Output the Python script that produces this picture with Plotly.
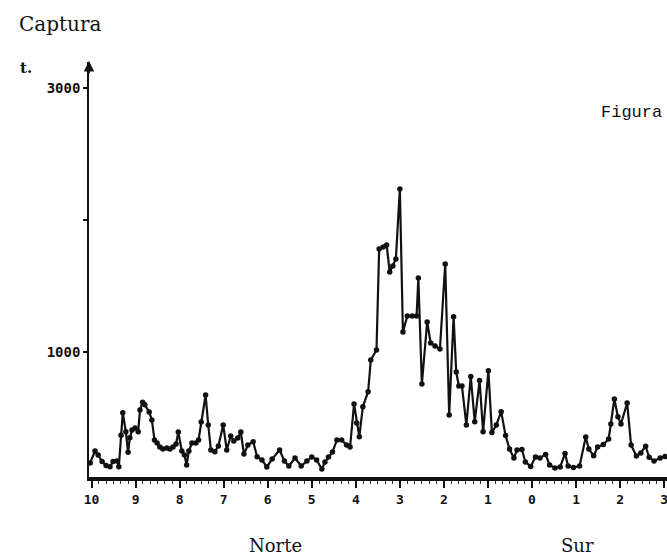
import plotly.graph_objects as go

# Latitude (negative = degrees North, positive = degrees South) and catch (t.)
lat = [-10.03, -9.92, -9.85, -9.76, -9.67, -9.58, -9.51, -9.42, -9.38, -9.33,
       -9.29, -9.22, -9.17, -9.13, -9.08, -9.01, -8.94, -8.90, -8.84, -8.79,
       -8.69, -8.63, -8.57, -8.51, -8.45, -8.38, -8.29, -8.22, -8.15, -8.08,
       -8.03, -7.95, -7.89, -7.84, -7.79, -7.72, -7.63, -7.57, -7.51, -7.41,
       -7.35, -7.29, -7.20, -7.12, -7.01, -6.93, -6.84, -6.77, -6.68, -6.61,
       -6.54, -6.45, -6.33, -6.24, -6.13, -6.02, -5.90, -5.73, -5.62, -5.52,
       -5.38, -5.24, -5.11, -5.00, -4.89, -4.77, -4.70, -4.62, -4.53, -4.43,
       -4.32, -4.21, -4.13, -4.04, -3.98, -3.92, -3.84, -3.72, -3.66, -3.53,
       -3.47, -3.38, -3.30, -3.23, -3.16, -3.09, -3.00, -2.93, -2.83, -2.72,
       -2.62, -2.58, -2.50, -2.38, -2.30, -2.20, -2.09, -1.97, -1.88, -1.78,
       -1.72, -1.66, -1.59, -1.49, -1.39, -1.30, -1.19, -1.11, -0.99, -0.91,
       -0.81, -0.70, -0.60, -0.51, -0.41, -0.34, -0.23, -0.15, -0.03, 0.08,
       0.18, 0.31, 0.40, 0.52, 0.64, 0.75, 0.82, 0.94, 1.08, 1.22,
       1.29, 1.40, 1.49, 1.62, 1.74, 1.79, 1.87, 1.95, 2.02, 2.16,
       2.25, 2.37, 2.47, 2.58, 2.66, 2.77, 2.91, 3.02]
captura = [160, 250, 220, 170, 140, 130, 170, 175, 130, 370,
           540, 395, 240, 350, 410, 425, 395, 560, 620, 600,
           545, 485, 333, 311, 280, 265, 273, 265, 280, 303,
           394, 250, 220, 144, 250, 311, 311, 333, 470, 674,
           447, 258, 245, 288, 447, 258, 364, 326, 348, 394,
           227, 295, 320, 207, 182, 129, 189, 258, 174, 136,
           197, 136, 174, 205, 182, 114, 167, 205, 242, 333,
           333, 295, 280, 606, 462, 358, 586, 699, 939, 1015,
           1780, 1796, 1811, 1606, 1652, 1705, 2235, 1152, 1273, 1273,
           1273, 1561, 758, 1227, 1068, 1045, 1023, 1667, 523, 1267,
           848, 742, 742, 447, 814, 472, 784, 396, 858, 390,
           447, 548, 367, 265, 197, 258, 261, 167, 133, 205,
           197, 223, 144, 121, 129, 231, 136, 125, 136, 356,
           265, 214, 280, 299, 341, 455, 644, 510, 455, 614,
           295, 212, 235, 286, 202, 174, 197, 208]

x_tickvals = list(range(-10, 4))
x_ticktext = ["10", "9", "8", "7", "6", "5", "4", "3", "2", "1", "0", "1", "2", "3"]
y_tickvals = [1000, 2000, 3000]
y_ticktext = ["1000", "", "3000"]

fig = go.Figure()
fig.add_trace(go.Scatter(
    x=lat, y=captura, mode="lines+markers",
    line=dict(color="#111111", width=2.2),
    marker=dict(color="#111111", size=5.5, symbol="circle"),
    hoverinfo="skip", showlegend=False, cliponaxis=False,
))

fig.update_layout(
    width=667, height=560,
    margin=dict(l=89, r=0, t=62, b=83),
    paper_bgcolor="white", plot_bgcolor="white",
    xaxis=dict(
        range=[-10.057, 3.065], showgrid=False, zeroline=False,
        showline=True, linecolor="#111111", linewidth=4,
        tickvals=x_tickvals, ticktext=x_ticktext, ticklabeloverflow="allow",
        ticks="outside", ticklen=7, tickwidth=1.5, tickcolor="#111111",
        tickfont=dict(family="DejaVu Sans Mono", size=13, color="#111111", weight="bold"),
        minor=dict(dtick=1/6, ticks="outside", ticklen=3, tickwidth=1, tickcolor="#333333"),
    ),
    yaxis=dict(
        range=[53, 3197], showgrid=False, zeroline=False,
        showline=True, linecolor="#111111", linewidth=1.6,
        tickvals=y_tickvals, ticktext=y_ticktext,
        ticks="outside", ticklen=4, tickwidth=1.5, tickcolor="#111111",
        tickfont=dict(family="DejaVu Sans Mono", size=14, color="#111111", weight="bold"),
    ),
    annotations=[
        dict(text="Captura", xref="paper", yref="paper", x=-0.1246, y=1.092,
             xanchor="left", yanchor="middle", showarrow=False,
             font=dict(family="DejaVu Serif", size=20, color="#111111")),
        dict(text="<b>t.</b>", xref="paper", yref="paper", x=-0.123, y=0.9855,
             xanchor="left", yanchor="middle", showarrow=False,
             font=dict(family="DejaVu Serif", size=15, color="#111111")),
        dict(text="Figura", xref="paper", yref="paper", x=0.882, y=0.8795,
             xanchor="left", yanchor="middle", showarrow=False,
             font=dict(family="Liberation Mono", size=17, color="#111111")),
        dict(text="Norte", xref="paper", yref="paper", x=0.322, y=-0.164,
             xanchor="center", yanchor="middle", showarrow=False,
             font=dict(family="DejaVu Serif", size=18, color="#111111")),
        dict(text="Sur", xref="paper", yref="paper", x=0.846, y=-0.164,
             xanchor="center", yanchor="middle", showarrow=False,
             font=dict(family="DejaVu Serif", size=18, color="#111111")),
        dict(text="", xref="paper", yref="paper", x=0.0, y=1.0024,
             ax=0, ay=14, showarrow=True, arrowhead=2, arrowsize=1.3,
             arrowwidth=1.6, arrowcolor="#111111"),
    ],
)

fig.write_html("out.html", config={"displayModeBar": False},
               post_script="document.body.style.margin='0';")
